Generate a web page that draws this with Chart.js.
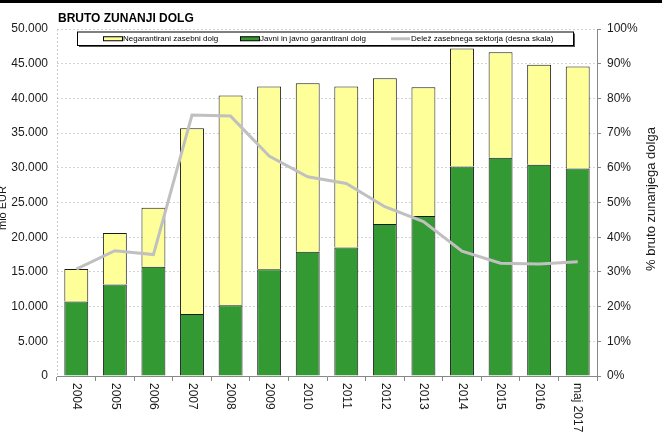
<!DOCTYPE html>
<html>
<head>
<meta charset="utf-8">
<script src="https://cdn.jsdelivr.net/npm/chart.js@4/dist/chart.umd.min.js"></script>
<style>
  html, body { margin: 0; padding: 0; background: #fff; }
  #wrap { width: 662px; height: 434px; position: relative; }
</style>
</head>
<body>
<div id="wrap"><canvas id="dolg"></canvas></div>
<script>
// --- podatki (mio EUR, odčitano s slike) ---
const leta = ['2004', '2005', '2006', '2007', '2008', '2009', '2010', '2011', '2012', '2013', '2014', '2015', '2016', 'maj 2017'];
const javniDolg = [10750, 13200, 15750, 8930, 10200, 15370, 17900, 18500, 21900, 23050, 30200, 31450, 30450, 29900];
const zasebniDolg = [4670, 7400, 8500, 26770, 30200, 26330, 24300, 23200, 21000, 18550, 17000, 15200, 14400, 14700];
const delezZasebni = [30.8, 36.1, 35.0, 75.2, 74.9, 63.4, 57.4, 55.5, 48.8, 44.5, 36.0, 32.5, 32.3, 32.9];
const levaOsTicks = [0, 5000, 10000, 15000, 20000, 25000, 30000, 35000, 40000, 45000, 50000];

const FONT = 'Arial, "Liberation Sans", sans-serif';

function formatTisoc(v) {
    return String(v).replace(/\B(?=(\d{3})+(?!\d))/g, '.');
}

// okvir, naslovi, legenda in navpične oznake let
const okrasje = {
    id: 'okrasje',
    beforeDraw(chart) {
        const ctx = chart.ctx;
        ctx.save();
        ctx.fillStyle = '#fff';
        ctx.fillRect(0, 0, chart.width, chart.height);
        ctx.restore();
    },
    afterDatasetsDraw(chart) {
        const ctx = chart.ctx;
        const a = chart.chartArea;
        ctx.save();
        // pikčasta leva meja risalne površine
        ctx.strokeStyle = '#c8c8c8';
        ctx.lineWidth = 1;
        ctx.setLineDash([2, 2]);
        ctx.beginPath();
        ctx.moveTo(a.left + 0.5, a.top);
        ctx.lineTo(a.left + 0.5, a.bottom);
        ctx.stroke();
        ctx.setLineDash([]);
        ctx.restore();
    },
    afterDraw(chart) {
        const ctx = chart.ctx;
        const a = chart.chartArea;
        const xs = chart.scales.x;
        ctx.save();

        // črna črta na vrhu
        ctx.fillStyle = '#000';
        ctx.fillRect(0, 0, chart.width, 3);

        // naslov
        ctx.fillStyle = '#000';
        ctx.font = 'bold 12px ' + FONT;
        ctx.textAlign = 'left';
        ctx.textBaseline = 'alphabetic';
        ctx.fillText('BRUTO ZUNANJI DOLG', a.left + 1, 22);

        // oznake let, zasukane navzdol
        ctx.fillStyle = '#1a1a1a';
        ctx.font = '12px ' + FONT;
        leta.forEach((l, i) => {
            const x = xs.getPixelForValue(i);
            ctx.save();
            ctx.translate(x, a.bottom + 7);
            ctx.rotate(Math.PI / 2);
            ctx.textAlign = 'left';
            ctx.textBaseline = 'middle';
            ctx.fillText(l, 0, 0);
            ctx.restore();
        });

        // naslov leve osi (delno odrezan)
        ctx.save();
        ctx.translate(3, 208);
        ctx.rotate(-Math.PI / 2);
        ctx.textAlign = 'center';
        ctx.textBaseline = 'middle';
        ctx.font = '11px ' + FONT;
        ctx.fillText('mio EUR', 0, 0);
        ctx.restore();

        // naslov desne osi
        ctx.save();
        ctx.translate(651, 199);
        ctx.rotate(-Math.PI / 2);
        ctx.textAlign = 'center';
        ctx.textBaseline = 'middle';
        ctx.font = '13px ' + FONT;
        ctx.fillText('% bruto zunanjega dolga', 0, 0);
        ctx.restore();

        // legenda
        const lx = a.left + 20, ly = a.top + 2.5, lw = 496, lh = 13.5;
        ctx.fillStyle = '#555';
        ctx.fillRect(lx + 2, ly + 2, lw, lh);
        ctx.fillStyle = '#fff';
        ctx.fillRect(lx, ly, lw, lh);
        ctx.strokeStyle = '#000';
        ctx.lineWidth = 1;
        ctx.strokeRect(lx + 0.5, ly + 0.5, lw, lh);

        const ds = chart.data.datasets;
        const items = [
            { d: ds[2], x: lx + 26 },
            { d: ds[1], x: lx + 163 },
            { d: ds[0], x: lx + 314 }
        ];
        const cy = ly + lh / 2 + 0.5;
        ctx.font = '8px ' + FONT;
        ctx.textAlign = 'left';
        ctx.textBaseline = 'middle';
        items.forEach(it => {
            if (it.d.type === 'line') {
                ctx.strokeStyle = it.d.borderColor;
                ctx.lineWidth = 3;
                ctx.beginPath();
                ctx.moveTo(it.x, cy);
                ctx.lineTo(it.x + 19, cy);
                ctx.stroke();
            } else {
                ctx.fillStyle = it.d.backgroundColor;
                ctx.fillRect(it.x, cy - 2, 19, 4);
                ctx.strokeStyle = '#000';
                ctx.lineWidth = 1;
                ctx.strokeRect(it.x + 0.5, cy - 2, 19, 4);
            }
            ctx.fillStyle = '#000';
            ctx.fillText(it.d.label, it.x + 20, cy);
        });

        ctx.restore();
    }
};

new Chart(document.getElementById('dolg'), {
    data: {
        labels: leta,
        datasets: [
            {
                type: 'line',
                label: 'Delež zasebnega sektorja (desna skala)',
                data: delezZasebni,
                yAxisID: 'y1',
                borderColor: '#c0c0c0',
                backgroundColor: '#c0c0c0',
                borderWidth: 3,
                pointRadius: 0,
                tension: 0,
                order: 0
            },
            {
                type: 'bar',
                label: 'Javni in javno garantirani dolg',
                data: javniDolg,
                yAxisID: 'y',
                backgroundColor: '#339933',
                borderColor: '#1a1a1a',
                borderWidth: 1,
                order: 1
            },
            {
                type: 'bar',
                label: 'Negarantirani zasebni dolg',
                data: zasebniDolg,
                yAxisID: 'y',
                backgroundColor: '#ffff99',
                borderColor: '#1a1a1a',
                borderWidth: 1,
                order: 2
            }
        ]
    },
    options: {
        responsive: true,
        maintainAspectRatio: false,
        animation: false,
        datasets: {
            bar: { categoryPercentage: 1, barPercentage: 0.62 }
        },
        layout: { padding: { top: 29, left: 0, right: 0, bottom: 0 } },
        plugins: {
            legend: { display: false },
            tooltip: { enabled: false }
        },
        scales: {
            x: {
                stacked: true,
                offset: true,
                afterFit: s => { s.height = 58; },
                ticks: { display: false },
                grid: { offset: true, drawOnChartArea: false, drawTicks: true, tickLength: 5, color: '#888' },
                border: { display: true, color: '#888', width: 1 }
            },
            y: {
                stacked: true,
                position: 'left',
                min: 0,
                max: 50000,
                afterFit: s => { s.width = 57; },
                afterBuildTicks: s => { s.ticks = levaOsTicks.map(v => ({ value: v })); },
                ticks: {
                    color: '#1a1a1a',
                    font: { family: FONT, size: 12 },
                    padding: 9,
                    callback: v => formatTisoc(v)
                },
                grid: { color: '#d4d4d4', drawTicks: false, lineWidth: 1 },
                border: { display: false, dash: [2, 2] }
            },
            y1: {
                position: 'right',
                min: 0,
                max: 100,
                afterFit: s => { s.width = 65; },
                ticks: {
                    stepSize: 10,
                    color: '#1a1a1a',
                    font: { family: FONT, size: 12 },
                    padding: 6,
                    callback: v => v + '%'
                },
                grid: { drawOnChartArea: false, drawTicks: true, tickLength: 4, color: '#888' },
                border: { display: true, color: '#888', width: 1 }
            }
        }
    },
    plugins: [okrasje]
});
</script>
</body>
</html>
